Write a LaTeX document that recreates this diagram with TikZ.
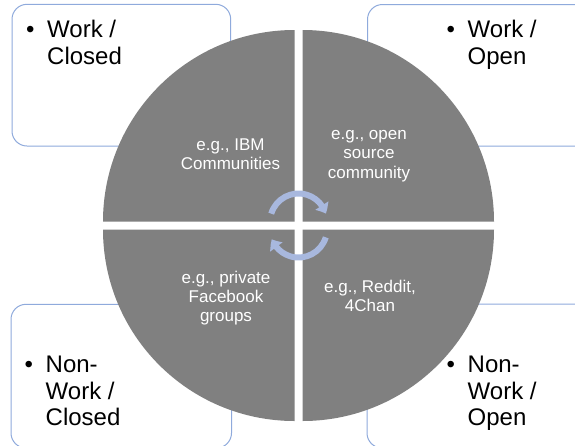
\documentclass[tikz,border=0pt]{standalone}
\usepackage{fontspec}
\setmainfont{Liberation Sans}
\definecolor{panelblue}{RGB}{143,170,220}
\definecolor{quadgray}{RGB}{128,128,128}
\definecolor{cycleblue}{RGB}{168,184,222}
\usetikzlibrary{
    arrows.meta,
    bending,
    calc
}
\tikzstyle{panel} = [
    draw=panelblue,
    line width=1pt,
    fill=white,
    rounded corners=15pt
]
\tikzstyle{quadrant} = [
    fill=quadgray
]
\tikzstyle{quadlabel} = [
    inner sep=0pt,
    anchor=base,
    text=white,
    font=\fontsize{17}{19.3}\selectfont
]
\tikzstyle{cornerlabel} = [
    inner sep=0pt,
    anchor=base west,
    text=black,
    font=\fontsize{24}{26.5}\selectfont
]
\tikzstyle{cyclearrow} = [
    -{Triangle[length=9pt,width=15pt,bend]},
    line width=6pt,
    draw=cycleblue
]
\newcommand{\stacked}[1]{\begin{tabular}[t]{@{}c@{}}#1\end{tabular}}
\newcommand{\bulleted}[1]{\begin{tabular}[t]{@{}l@{}l@{}}\makebox[21pt][l]{\textbullet} & #1\end{tabular}}

\begin{document}
\begin{tikzpicture}[x=1pt, y=-1pt]
    \useasboundingbox (0,0) rectangle (575,445);

    % Corner panels
    \draw[panel] (12,4.3) rectangle (230.7,146);
    \draw[panel] (367.5,4.5) rectangle (610,146);
    \draw[panel] (11,304.3) rectangle (231.5,448);
    \draw[panel] (367,304) rectangle (610,448);

    % Four wedges of the circle
    \coordinate (c) at (298.5,225.5);
    \foreach \a in {0,90,180,270}
        \fill[quadrant] ($(c)+(\a+45:5.657)$) -- +(\a:191.5) arc (\a:\a+90:191.5) -- cycle;

    % Cycle arrows in the middle
    \coordinate (upper) at (298.5,222);
    \coordinate (lower) at (298.5,229);
    \draw[cyclearrow] (upper) ++(-163:28.5) arc (-163:-17:28.5);
    \draw[cyclearrow] (lower) ++(17:28.5) arc (17:159:28.5);

    % Examples in the wedges
    \node[quadlabel] (ibm) at (230.5,150) {\stacked{e.g., IBM\\Communities}};
    \node[quadlabel] (oss) at (369,139.5) {\stacked{e.g., open\\source\\community}};
    \node[quadlabel] (facebook) at (226,283.3) {\stacked{e.g., private\\Facebook\\groups}};
    \node[quadlabel] (reddit) at (370,292) {\stacked{e.g., Reddit,\\4Chan}};

    % Corner labels
    \node[cornerlabel] (workclosed) at (26,37.5) {\bulleted{Work /\\ & Closed}};
    \node[cornerlabel] (workopen) at (446.5,37.5) {\bulleted{Work /\\ & Open}};
    \node[cornerlabel] (nonworkclosed) at (24.5,372.8) {\bulleted{Non-\\ & Work /\\ & Closed}};
    \node[cornerlabel] (nonworkopen) at (446.5,372.8) {\bulleted{Non-\\ & Work /\\ & Open}};
\end{tikzpicture}
\end{document}
